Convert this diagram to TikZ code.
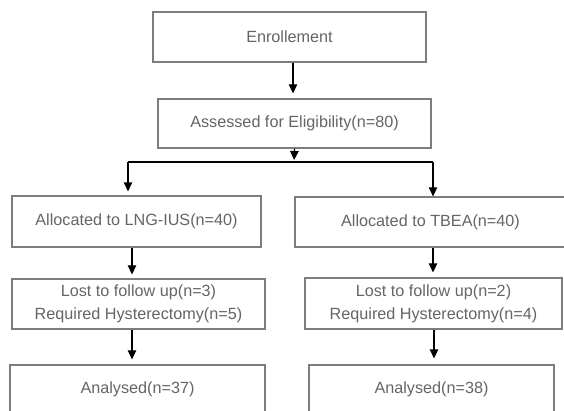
\documentclass[tikz,border=0pt]{standalone}
\usepackage{fontspec}
\setmainfont{Liberation Sans}
\usepackage{xcolor}
\usepackage{tikz}
\usetikzlibrary{positioning, arrows.meta, calc}

\definecolor{boxline}{RGB}{125,125,125}
\definecolor{boxtext}{RGB}{100,100,105}

\tikzset{
    box/.style={draw=boxline, line width=1.3pt, rectangle, inner sep=0pt,
        align=center, text=boxtext, font=\fontsize{16.2}{23}\selectfont},
    arr/.style={draw=black, line width=1.2pt, -{Triangle[length=9pt,width=8.5pt]}},
}

\begin{document}
\begin{tikzpicture}[x=1pt, y=-1pt]
    % Seite wie das Original
    \path[use as bounding box, clip] (0,0) rectangle (564,410);

    % Kaesten
    \node[box, minimum width=273pt, minimum height=50pt] (enrol) at (289.5,37) {Enrollement};
    \node[box, minimum width=273pt, minimum height=49pt] (assess) at (294.5,123.5) {Assessed for Eligibility(n=80)};
    \node[box, minimum width=249pt, minimum height=51pt] (allocL) at (136.5,221.5) {Allocated to LNG-IUS(n=40)};
    \node[box, minimum width=271pt, minimum height=50pt] (allocR) at (430.5,222) {Allocated to TBEA(n=40)};
    \node[box, minimum width=253pt, minimum height=50pt] (lostL) at (138.5,304) {Lost to follow up(n=3)\\Required Hysterectomy(n=5)};
    \node[box, minimum width=257pt, minimum height=51pt] (lostR) at (433.5,303.5) {Lost to follow up(n=2)\\Required Hysterectomy(n=4)};
    \node[box, minimum width=255pt, minimum height=48pt] (anaL) at (137.5,389) {Analysed(n=37)};
    \node[box, minimum width=245pt, minimum height=48pt] (anaR) at (431.5,389) {Analysed(n=38)};

    % Verzweigung
    \coordinate (split) at (294,162);
    \coordinate (splitL) at (128,162);
    \coordinate (splitR) at (433,162);

    % Pfeile
    \draw[arr, shorten >=5pt] ([xshift=3.5pt]enrol.south) -- ([xshift=-1.5pt]assess.north);
    \draw[arr, shorten >=2pt] (assess.south) -- (split);
    \draw[line width=1.2pt] (splitL) -- (splitR);
    \draw[arr, shorten >=4pt] (splitL) -- (splitL |- allocL.north);
    \draw[arr] (splitR) -- (splitR |- allocR.north);
    \draw[arr, shorten >=4pt] ([xshift=-4.5pt]allocL.south) -- ([xshift=-6.5pt]lostL.north);
    \draw[arr, shorten >=5pt] ([xshift=2.5pt]allocR.south) -- ([xshift=-0.5pt]lostR.north);
    \draw[arr, shorten >=5pt] ([xshift=-6.5pt]lostL.south) -- ([xshift=-5.5pt]anaL.north);
    \draw[arr, shorten >=6pt] ([xshift=0.5pt]lostR.south) -- ([xshift=2.5pt]anaR.north);
\end{tikzpicture}
\end{document}
